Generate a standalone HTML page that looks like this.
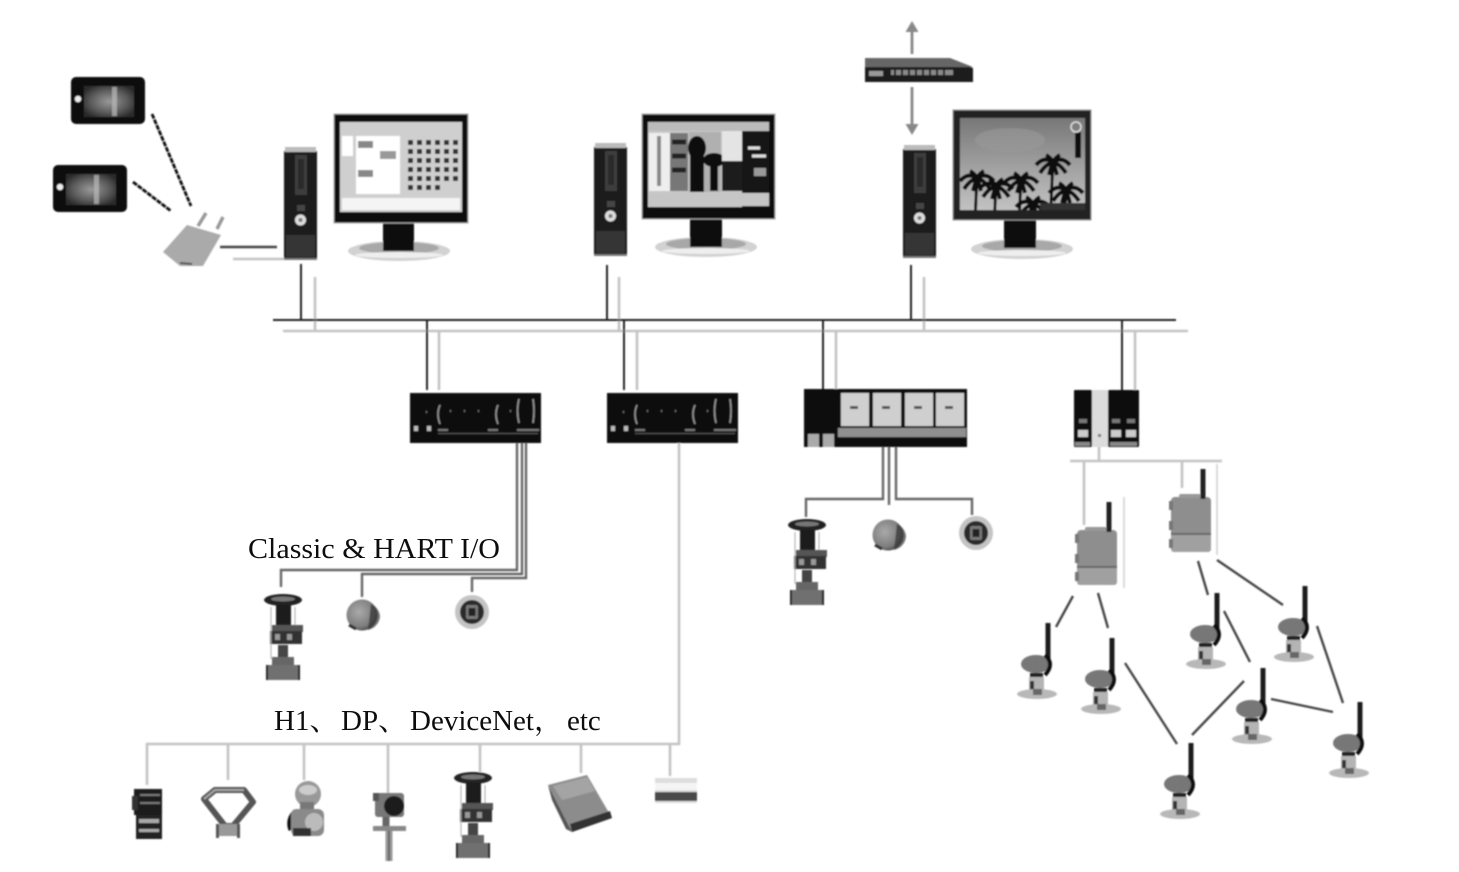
<!DOCTYPE html>
<html><head><meta charset="utf-8"><style>
html,body{margin:0;padding:0;background:#fff;width:1459px;height:872px;overflow:hidden}
svg{display:block}
text{fill:#111;font-family:"Liberation Serif","Noto Serif CJK SC",serif;font-size:29px}
</style></head><body>
<svg width="1459" height="872" viewBox="0 0 1459 872" xmlns="http://www.w3.org/2000/svg">
<defs>
<filter id="b" x="-5%" y="-5%" width="110%" height="110%"><feGaussianBlur stdDeviation="0.85"/></filter>
<filter id="t" x="-5%" y="-20%" width="110%" height="140%"><feGaussianBlur stdDeviation="0.35"/></filter>
<clipPath id="scr"><rect x="960" y="118" width="125" height="92"/></clipPath>
<radialGradient id="mg" cx="40%" cy="40%" r="70%"><stop offset="0" stop-color="#aaa"/><stop offset=".7" stop-color="#7c7c7c"/><stop offset="1" stop-color="#333"/></radialGradient>
<linearGradient id="sky" x1="0" y1="0" x2="0" y2="1"><stop offset="0" stop-color="#777"/><stop offset=".55" stop-color="#a2a2a2"/><stop offset="1" stop-color="#c2c2c2"/></linearGradient>
<radialGradient id="tb" cx="50%" cy="50%" r="60%"><stop offset="0" stop-color="#999"/><stop offset=".6" stop-color="#5c5c5c"/><stop offset="1" stop-color="#2a2a2a"/></radialGradient>

<g id="tablet">
<rect width="74" height="47" rx="5" fill="#0c0c0c"/>
<rect x="13" y="9" width="50" height="31" fill="url(#tb)"/>
<rect x="41" y="10" width="5" height="29" fill="#bbb" opacity=".7"/>
<circle cx="7" cy="22" r="3.2" fill="#eee"/>
</g>

<g id="tower">
<rect x="0" y="4" width="33" height="108" fill="#1d1d1d"/>
<rect x="1" y="0" width="31" height="5" fill="#bbb"/>
<rect x="11" y="8" width="12" height="40" fill="#3e3e3e"/>
<rect x="14" y="12" width="6" height="30" fill="#2a2a2a"/>
<rect x="13" y="58" width="8" height="6" fill="#444"/>
<circle cx="16.5" cy="73" r="5.5" fill="#ddd"/><circle cx="16.5" cy="73" r="2" fill="#777"/>
<rect x="2" y="88" width="29" height="22" fill="#363636"/>
<rect x="0" y="111" width="33" height="2" fill="#777"/>
</g>

<g id="base">
<ellipse cx="51" cy="11" rx="51" ry="10" fill="#d2d2d2"/>
<ellipse cx="51" cy="8" rx="40" ry="6" fill="#a8a8a8"/>
<ellipse cx="51" cy="15" rx="44" ry="3" fill="#eee"/>
</g>

<g id="palm">
<path d="M0 0C-1 14 -1 28 -3 60" stroke="#0c0c0c" stroke-width="3" fill="none"/>
<path d="M0 0q-9-6-17 3M0 0q9-6 17 3M0 0q-7 2-13 11M0 0q7 2 13 11M0 0q-3-5-7-7M0 0q3-5 7-7M0 0q-2 5-4 13M0 0q2 5 4 13" stroke="#0c0c0c" stroke-width="4" fill="none"/>
<circle cx="0" cy="1" r="5" fill="#0c0c0c"/>
</g>

<g id="ctrl">
<rect width="131" height="50" fill="#090909"/>
<path d="M30 12q-4 9 0 19M88 12q-4 9 0 19M109 6q-3 12 0 24M123 6q2 12 0 24" stroke="#999" stroke-width="1.5" fill="none"/>
<path d="M16 19h1M40 18h1M54 18h1M68 18h1M100 18h1" stroke="#777" stroke-width="2"/>
<rect x="4" y="33" width="4" height="5" fill="#bbb"/><rect x="17" y="33" width="4" height="5" fill="#bbb"/>
<rect x="28" y="36" width="10" height="2" fill="#777"/><rect x="78" y="36" width="10" height="2" fill="#777"/><rect x="107" y="36" width="22" height="2" fill="#777"/>
<rect x="28" y="40" width="100" height="1" fill="#555"/>
</g>

<g id="valve">
<ellipse cx="20" cy="7" rx="19" ry="6" fill="#222"/>
<ellipse cx="20" cy="6" rx="12" ry="2.5" fill="#777"/>
<rect x="13" y="12" width="15" height="20" fill="#1e1e1e"/>
<rect x="9" y="32" width="31" height="7" fill="#555"/>
<rect x="7" y="38" width="32" height="13" fill="#333"/>
<rect x="12" y="41" width="5" height="6" fill="#999"/><rect x="24" y="41" width="5" height="6" fill="#999"/>
<path d="M8 14v52M32 14v18" stroke="#aaa" stroke-width="1" fill="none"/>
<rect x="15" y="52" width="10" height="12" fill="#444"/>
<rect x="9" y="64" width="22" height="19" fill="#666"/>
<rect x="4" y="72" width="32" height="15" fill="#707070"/>
<path d="M4 72v15M36 72v15" stroke="#222" stroke-width="2"/>
</g>

<g id="motor">
<circle cx="16" cy="15" r="15.5" fill="url(#mg)"/>
<path d="M25 4a15 15 0 0 1 9 12a15 15 0 0 1-12 14" fill="#333" opacity=".7"/>
<path d="M3 25l7 4" stroke="#333" stroke-width="3"/>
</g>

<g id="round">
<circle cx="17" cy="17" r="17" fill="#c4c4c4"/>
<circle cx="17" cy="17" r="12" fill="#2a2a2a"/>
<rect x="11" y="10" width="12" height="14" rx="2" fill="#777"/>
<rect x="13.5" y="13" width="7" height="8" fill="#222"/>
</g>

<g id="box">
<rect x="0" y="0" width="40" height="55" rx="4" fill="#8e8e8e"/>
<rect x="0" y="36" width="40" height="19" rx="3" fill="#a0a0a0"/>
<rect x="0" y="36" width="40" height="2" fill="#666"/>
<rect x="-2" y="4" width="4" height="9" fill="#777"/><rect x="-2" y="24" width="4" height="9" fill="#777"/><rect x="-2" y="42" width="4" height="9" fill="#777"/>
<rect x="8" y="-3" width="22" height="4" rx="2" fill="#999"/>
</g>

<g id="tx">
<rect x="-2.5" y="0" width="5" height="36" fill="#1c1c1c"/>
<ellipse cx="-12" cy="41" rx="15" ry="9" fill="#777"/>
<path d="M-3 32q10 9 0 20" stroke="#111" stroke-width="4" fill="none"/>
<rect x="-18" y="50" width="13" height="4" fill="#222"/>
<rect x="-19" y="54" width="15" height="15" fill="#b4b4b4"/>
<rect x="-18" y="58" width="4" height="10" fill="#333"/>
<ellipse cx="-11" cy="71" rx="20" ry="5" fill="#b8b8b8"/>
<rect x="-15" y="66" width="9" height="6" fill="#666"/>
</g>
</defs>

<g filter="url(#b)">
<!-- Bus -->
<g fill="none">
<g stroke="#c4c4c4" stroke-width="2.6">
<path d="M283 331H1188M315 277V331M619 277V331M924 277V331M439 331V390M637 331V390M836 331V390M1135 331V392"/>
<path d="M233 259H284"/>
<path d="M679 443V744H147V785M228 744V780M304 744V780M388 744V795M480 744V772M581 744V773M670 744V776"/>
<path d="M1070 461H1222M1099 447V461M1084 461V525M1182 461V488"/>
</g>
<path d="M1217 464V555M1124 497V588" stroke="#d2d2d2" stroke-width="1.6"/>
<g stroke="#222" stroke-width="2">
<path d="M273 320H1176M301 264V320M607 265V320M911 265V320M427 320V390M624 320V390M823 320V390M1122 320V392"/>
</g>
<path d="M220 247H277" stroke="#444" stroke-width="2.4"/>
<g stroke="#666" stroke-width="2.4">
<path d="M517 443V570H281V587"/>
<path d="M522 443V574H362V597"/>
<path d="M526 443V578H472V592"/>
<path d="M883 447V499H806V517"/>
<path d="M889 447V505"/>
<path d="M896 447V499H972V515"/>
</g>
<!-- Wireless links -->
<g stroke="#111" stroke-width="2.8" stroke-dasharray="5 1">
<path d="M152 114L191 206M133 182L171 211"/>
</g>
<path d="M1073 596L1056 627M1098 593L1108 628M1198 561L1208 595M1217 560L1283 605M1224 611L1250 662M1317 626L1343 703M1125 663L1177 744M1192 735L1244 681M1271 699L1333 712" stroke="#444" stroke-width="2.4"/>
<!-- Switch arrows -->
<g stroke="#888" stroke-width="2.8"><path d="M912 30V54M912 87V126"/></g>
</g>
<path d="M912 21l-6.5 11h13zM912 135l-6.5-11h13z" fill="#888"/>

<!-- Tablets -->
<use href="#tablet" x="71" y="77"/>
<use href="#tablet" x="53" y="165"/>

<!-- AP -->
<path d="M206 213L198 226M223 217L217 229" stroke="#999" stroke-width="3.5"/>
<path d="M163 252L187 225L221 235L203 266L180 266Z" fill="#aaa"/>
<path d="M180 263l12 1" stroke="#555" stroke-width="2"/>

<!-- PCs -->
<use href="#tower" x="284" y="147"/>
<use href="#tower" x="594" y="143"/>
<use href="#tower" x="903" y="145"/>

<!-- Monitor 1 -->
<use href="#base" x="348" y="240"/>
<rect x="383" y="222" width="31" height="29" fill="#0b0b0b"/>
<rect x="334" y="114" width="134" height="109" fill="#111" stroke="#aaa" stroke-width="1"/>
<rect x="340" y="122" width="122" height="90" fill="#cfcfcf"/>
<rect x="342" y="136" width="11" height="20" fill="#fff"/>
<rect x="356" y="136" width="44" height="58" fill="#fff"/>
<rect x="358" y="141" width="15" height="7" fill="#888"/><rect x="358" y="170" width="15" height="7" fill="#888"/><rect x="380" y="151" width="16" height="8" fill="#999"/>
<rect x="342" y="198" width="118" height="12" fill="#f4f4f4"/>
<g fill="#333">
<rect x="408" y="140" width="5" height="5"/><rect x="417" y="140" width="5" height="5"/><rect x="426" y="140" width="5" height="5"/><rect x="435" y="140" width="5" height="5"/><rect x="444" y="140" width="5" height="5"/><rect x="453" y="140" width="5" height="5"/>
<rect x="408" y="149" width="5" height="5"/><rect x="417" y="149" width="5" height="5"/><rect x="426" y="149" width="5" height="5"/><rect x="435" y="149" width="5" height="5"/><rect x="444" y="149" width="5" height="5"/><rect x="453" y="149" width="5" height="5"/>
<rect x="408" y="158" width="5" height="5"/><rect x="417" y="158" width="5" height="5"/><rect x="426" y="158" width="5" height="5"/><rect x="435" y="158" width="5" height="5"/><rect x="444" y="158" width="5" height="5"/><rect x="453" y="158" width="5" height="5"/>
<rect x="408" y="167" width="5" height="5"/><rect x="417" y="167" width="5" height="5"/><rect x="426" y="167" width="5" height="5"/><rect x="435" y="167" width="5" height="5"/><rect x="444" y="167" width="5" height="5"/><rect x="453" y="167" width="5" height="5"/>
<rect x="408" y="176" width="5" height="5"/><rect x="417" y="176" width="5" height="5"/><rect x="426" y="176" width="5" height="5"/><rect x="435" y="176" width="5" height="5"/><rect x="444" y="176" width="5" height="5"/><rect x="453" y="176" width="5" height="5"/>
<rect x="408" y="185" width="5" height="5"/><rect x="417" y="185" width="5" height="5"/><rect x="426" y="185" width="5" height="5"/><rect x="435" y="185" width="5" height="5"/>
</g>

<!-- Monitor 2 -->
<use href="#base" x="655" y="236"/>
<rect x="690" y="218" width="32" height="29" fill="#0b0b0b"/>
<rect x="642" y="114" width="133" height="105" fill="#111" stroke="#aaa" stroke-width="1"/>
<rect x="648" y="122" width="121" height="85" fill="#c8c8c8"/>
<rect x="648" y="122" width="121" height="9" fill="#bbb"/>
<rect x="649" y="133" width="22" height="58" fill="#eee"/>
<rect x="657" y="136" width="4" height="50" fill="#888"/>
<rect x="670" y="133" width="18" height="58" fill="#777"/>
<path d="M672 142h14M672 156h14M672 170h14" stroke="#222" stroke-width="5"/>
<rect x="689" y="132" width="32" height="60" fill="#b0b0b0"/>
<g fill="#111"><ellipse cx="697" cy="148" rx="9" ry="12"/><rect x="690" y="156" width="14" height="36"/><ellipse cx="714" cy="160" rx="11" ry="7"/><rect x="710" y="165" width="8" height="26"/></g>
<rect x="722" y="131" width="20" height="30" fill="#e4e4e4"/>
<rect x="742" y="131" width="27" height="76" fill="#141414"/>
<rect x="722" y="161" width="20" height="30" fill="#1e1e1e"/>
<path d="M748 148h12M752 156h14" stroke="#ddd" stroke-width="3"/>
<rect x="754" y="168" width="12" height="8" fill="#999"/>
<rect x="648" y="193" width="121" height="13" fill="#c6c6c6"/>

<!-- Monitor 3 -->
<use href="#base" x="971" y="238"/>
<rect x="1004" y="219" width="32" height="29" fill="#0b0b0b"/>
<rect x="953" y="110" width="138" height="110" fill="#222" stroke="#999" stroke-width="1"/>
<rect x="960" y="118" width="125" height="92" fill="url(#sky)"/>
<ellipse cx="1010" cy="140" rx="35" ry="12" fill="#9a9a9a" opacity=".6"/>
<g clip-path="url(#scr)">
<use href="#palm" x="977" y="178"/>
<use href="#palm" x="996" y="186"/>
<use href="#palm" x="1021" y="180"/>
<use href="#palm" x="1033" y="204"/>
<use href="#palm" x="1053" y="162"/>
<use href="#palm" x="1066" y="190"/>
<rect x="1040" y="203" width="45" height="7" fill="#333"/>
</g>
<rect x="1075" y="132" width="6" height="26" fill="#111"/>
<circle cx="1076" cy="127" r="5" fill="none" stroke="#ddd" stroke-width="1.5"/>

<!-- Switch -->
<path d="M865 62H955L973 68V82H865Z" fill="#1a1a1a"/>
<path d="M865 58H950L973 67H865Z" fill="#666"/>
<rect x="869" y="71" width="14" height="5" fill="#999"/>
<rect x="891" y="70" width="62" height="5" fill="#8a8a8a"/>
<path d="M895 70v5M902 70v5M909 70v5M916 70v5M923 70v5M930 70v5M937 70v5M944 70v5" stroke="#111" stroke-width="2"/>

<!-- Controllers -->
<use href="#ctrl" x="410" y="393"/>
<use href="#ctrl" x="607" y="393"/>
<rect x="804" y="389" width="33" height="58" fill="#0a0a0a"/>
<rect x="837" y="389" width="130" height="58" fill="#0a0a0a"/>
<g fill="#cfcfcf">
<rect x="841" y="393" width="28" height="33"/><rect x="873" y="393" width="28" height="33"/><rect x="905" y="393" width="28" height="33"/><rect x="936" y="393" width="28" height="33"/>
</g>
<g fill="#555"><rect x="850" y="406" width="8" height="3"/><rect x="882" y="406" width="8" height="3"/><rect x="914" y="406" width="8" height="3"/><rect x="945" y="406" width="8" height="3"/></g>
<rect x="838" y="428" width="128" height="9" fill="#8f8f8f"/>
<rect x="808" y="434" width="11" height="13" fill="#aaa"/><rect x="823" y="434" width="11" height="13" fill="#aaa"/>

<!-- Gateway -->
<rect x="1074" y="390" width="18" height="57" rx="1" fill="#0d0d0d"/>
<rect x="1092" y="390" width="16" height="57" fill="#dcdcdc"/>
<rect x="1108" y="390" width="31" height="57" rx="1" fill="#0d0d0d"/>
<rect x="1078" y="430" width="10" height="7" fill="#ccc"/><rect x="1111" y="430" width="10" height="7" fill="#ccc"/><rect x="1126" y="430" width="10" height="7" fill="#ccc"/>
<rect x="1079" y="419" width="8" height="4" fill="#777"/><rect x="1112" y="419" width="8" height="4" fill="#777"/><rect x="1127" y="419" width="8" height="4" fill="#777"/>
<rect x="1075" y="442" width="15" height="4" fill="#888"/><rect x="1110" y="442" width="27" height="4" fill="#888"/>
<rect x="1098" y="434" width="3" height="3" fill="#777"/>

<!-- Field devices under controllers -->
<use href="#valve" x="263" y="593"/>
<use href="#motor" x="346" y="600"/>
<use href="#round" x="455" y="595"/>
<use href="#valve" x="787" y="518"/>
<use href="#motor" x="872" y="520"/>
<use href="#round" x="959" y="516"/>

<!-- Wireless -->
<use href="#box" x="1077" y="530"/>
<rect x="1106.5" y="502" width="5" height="30" fill="#222"/>
<use href="#box" x="1171" y="497"/>
<rect x="1200.5" y="469" width="5" height="30" fill="#222"/>
<use href="#tx" x="1048" y="623"/>
<use href="#tx" x="1112" y="638"/>
<use href="#tx" x="1217" y="593"/>
<use href="#tx" x="1305" y="586"/>
<use href="#tx" x="1263" y="668"/>
<use href="#tx" x="1360" y="702"/>
<use href="#tx" x="1191" y="743"/>

<!-- Bottom row devices -->
<rect x="134" y="789" width="28" height="26" fill="#1a1a1a"/>
<path d="M140 795h20M140 803h20" stroke="#777" stroke-width="2"/>
<rect x="132" y="796" width="6" height="14" fill="#333"/>
<rect x="136" y="815" width="26" height="24" fill="#222"/>
<rect x="139" y="819" width="20" height="4" fill="#aaa"/><rect x="139" y="829" width="20" height="3" fill="#aaa"/>

<path d="M204 799L215 790H244L253 802L233 826H225Z" fill="none" stroke="#555" stroke-width="6" stroke-linejoin="round"/>
<path d="M204 799L215 790H244" fill="none" stroke="#aaa" stroke-width="2"/>
<rect x="217" y="824" width="22" height="12" fill="#999"/>
<rect x="216" y="824" width="3" height="14" fill="#555"/><rect x="237" y="824" width="3" height="14" fill="#555"/>

<circle cx="308" cy="794" r="13" fill="#999"/>
<ellipse cx="308" cy="790" rx="9" ry="5" fill="#ccc"/>
<rect x="300" y="802" width="14" height="8" fill="#777"/>
<path d="M296 811q-9 8-5 19" stroke="#111" stroke-width="5" fill="none"/>
<rect x="291" y="809" width="33" height="27" rx="6" fill="#8a8a8a"/>
<circle cx="314" cy="822" r="9" fill="#bbb"/>
<rect x="293" y="828" width="18" height="8" fill="#333"/>

<rect x="375" y="793" width="29" height="24" rx="3" fill="#777"/>
<circle cx="394" cy="806" r="10" fill="#1a1a1a"/>
<rect x="373" y="793" width="6" height="8" fill="#555"/>
<path d="M386 817v9" stroke="#666" stroke-width="7"/>
<rect x="373" y="826" width="33" height="5" fill="#888"/>
<path d="M389 831v30" stroke="#999" stroke-width="7"/>
<path d="M389 831v30" stroke="#555" stroke-width="1.5"/>

<use href="#valve" x="453" y="771"/>

<path d="M548 785L587 775L612 818L572 832Z" fill="#8c8c8c"/>
<path d="M548 785L572 832L566 829L552 800Z" fill="#555"/>
<path d="M553 786L587 777L595 791L562 800Z" fill="#a4a4a4"/>
<path d="M572 832L612 818L610 811L570 824Z" fill="#333"/>

<rect x="655" y="778" width="42" height="25" fill="#ddd"/>
<rect x="655" y="783" width="42" height="7" fill="#f5f5f5"/>
<rect x="655" y="792" width="42" height="9" fill="#4a4a4a"/>
</g>

<g filter="url(#t)">
<text x="248" y="558" textLength="252" lengthAdjust="spacingAndGlyphs">Classic &amp; HART I/O</text>
<text y="730"><tspan x="274">H1、</tspan><tspan x="341">DP、</tspan><tspan x="410">DeviceNet，</tspan><tspan x="567">etc</tspan></text>
</g>
</svg>
</body></html>
